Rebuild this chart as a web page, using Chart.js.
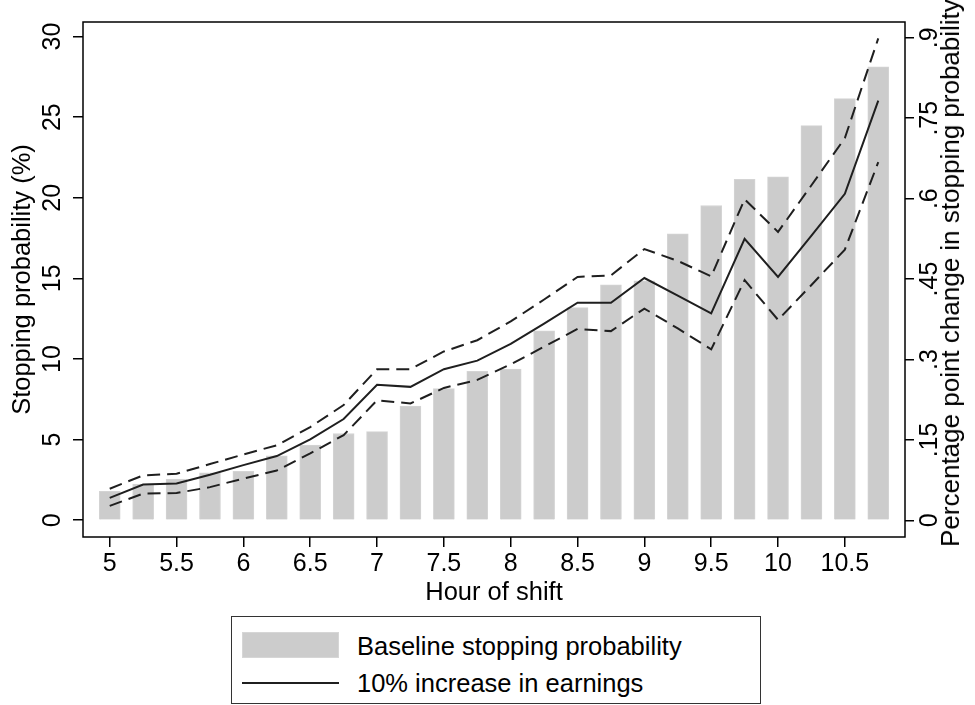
<!DOCTYPE html>
<html>
<head>
<meta charset="utf-8">
<script src="https://cdn.jsdelivr.net/npm/chart.js@4.4.1/dist/chart.umd.min.js"></script>
<style>
  html, body { margin: 0; padding: 0; background: #fff; }
  #wrap { position: relative; width: 975px; height: 705px; overflow: hidden; font-family: "Liberation Sans", Arial, Helvetica, sans-serif; color: #000; }
  #chartBox { position: absolute; left: 0; top: 0; width: 975px; height: 705px; }
  #rtitle { position: absolute; left: 950px; top: 273px; transform: translate(-50%, -50%) rotate(-90deg); white-space: nowrap; font-size: 26px; line-height: 30px; }
  #legend { position: absolute; left: 231px; top: 616px; width: 530px; height: 88px; border: 1.5px solid #333; box-sizing: border-box; background: #fff; }
  .sw { position: absolute; left: 10px; width: 97px; }
  .lt { position: absolute; left: 125px; font-size: 25.5px; line-height: 30px; white-space: nowrap; }
</style>
</head>
<body>
<div id="wrap">
  <div id="chartBox"><canvas id="c"></canvas></div>
  <div id="rtitle"></div>
  <div id="legend">
    <div class="sw" style="top:15px;height:26px;background:#cccccc;border:1px solid #d6d6d6;box-sizing:border-box;"></div>
    <div class="lt" id="lg1" style="top:14px;"></div>
    <div class="sw" style="top:65px;height:2px;background:#1f1f1f;"></div>
    <div class="lt" id="lg2" style="top:51px;"></div>
  </div>
</div>
<script>
// ---- data ----
const hours = [5, 5.25, 5.5, 5.75, 6, 6.25, 6.5, 6.75, 7, 7.25, 7.5, 7.75, 8, 8.25, 8.5, 8.75, 9, 9.25, 9.5, 9.75, 10, 10.25, 10.5, 10.75];
const baseline = [1.8, 2.24, 2.55, 2.94, 3.04, 3.99, 4.66, 5.38, 5.5, 7.08, 8.16, 9.24, 9.38, 11.74, 13.19, 14.6, 14.84, 17.76, 19.52, 21.14, 21.3, 24.47, 26.15, 28.12];
const effect = [0.042, 0.067, 0.069, 0.085, 0.103, 0.120, 0.151, 0.189, 0.253, 0.249, 0.282, 0.298, 0.329, 0.367, 0.406, 0.406, 0.452, 0.419, 0.386, 0.525, 0.454, 0.531, 0.609, 0.783];
const upper = [0.059, 0.084, 0.087, 0.105, 0.123, 0.140, 0.174, 0.215, 0.282, 0.282, 0.315, 0.336, 0.371, 0.412, 0.454, 0.457, 0.506, 0.484, 0.455, 0.599, 0.538, 0.625, 0.713, 0.899];
const lower = [0.027, 0.050, 0.051, 0.062, 0.078, 0.093, 0.125, 0.159, 0.224, 0.218, 0.247, 0.262, 0.291, 0.324, 0.357, 0.353, 0.395, 0.358, 0.319, 0.448, 0.374, 0.439, 0.505, 0.668];

const xTicks = [5, 5.5, 6, 6.5, 7, 7.5, 8, 8.5, 9, 9.5, 10, 10.5];
const xTickLabels = ['5', '5.5', '6', '6.5', '7', '7.5', '8', '8.5', '9', '9.5', '10', '10.5'];
const leftTicks = [0, 5, 10, 15, 20, 25, 30];
const leftTickLabels = ['0', '5', '10', '15', '20', '25', '30'];
const rightTicks = [0, 0.15, 0.3, 0.45, 0.6, 0.75, 0.9];
const rightTickLabels = ['0', '.15', '.3', '.45', '.6', '.75', '.9'];

const xTitle = 'Hour of shift';
const leftTitle = 'Stopping probability (%)';
const rightTitle = 'Percentage point change in stopping probability';
const legendLabels = ['Baseline stopping probability', '10% increase in earnings'];

document.getElementById('rtitle').textContent = rightTitle;
document.getElementById('lg1').textContent = legendLabels[0];
document.getElementById('lg2').textContent = legendLabels[1];

const FONT = '"Liberation Sans", Arial, Helvetica, sans-serif';
Chart.defaults.font.family = FONT;
Chart.defaults.color = '#000';

const pts = arr => arr.map((v, i) => ({ x: hours[i], y: v }));
const setTicks = (vals) => (s) => { s.ticks = vals.map(v => ({ value: v })); };
const labelFrom = (vals, labels) => (v) => { const i = vals.findIndex(t => Math.abs(t - v) < 1e-9); return i >= 0 ? labels[i] : ''; };

const tickGrid = { display: true, drawOnChartArea: false, drawTicks: true, tickLength: 10, color: '#000', lineWidth: 1.5, offset: false };

const frame = {
  id: 'frame',
  afterDraw(chart) {
    const { ctx, chartArea: a } = chart;
    ctx.save();
    ctx.strokeStyle = '#000';
    ctx.lineWidth = 1.5;
    ctx.strokeRect(a.left, a.top, a.right - a.left, a.bottom - a.top);
    ctx.restore();
  }
};

new Chart(document.getElementById('c'), {
  data: {
    datasets: [
      { type: 'line', label: 'upper', data: pts(upper), yAxisID: 'y2', borderColor: '#1f1f1f', borderWidth: 2, borderDash: [13, 7], pointRadius: 0, fill: false, tension: 0, order: 1 },
      { type: 'line', label: legendLabels[1], data: pts(effect), yAxisID: 'y2', borderColor: '#1f1f1f', borderWidth: 2, pointRadius: 0, fill: false, tension: 0, order: 1 },
      { type: 'line', label: 'lower', data: pts(lower), yAxisID: 'y2', borderColor: '#1f1f1f', borderWidth: 2, borderDash: [13, 7], pointRadius: 0, fill: false, tension: 0, order: 1 },
      { type: 'bar', label: legendLabels[0], data: pts(baseline), yAxisID: 'y', backgroundColor: '#cccccc', borderColor: '#d4d4d4', borderWidth: 1, barThickness: 21, order: 2 }
    ]
  },
  options: {
    responsive: true,
    maintainAspectRatio: false,
    animation: false,
    layout: { padding: { top: 22, bottom: 97, left: 0, right: 0 } },
    plugins: { legend: { display: false }, tooltip: { enabled: false } },
    scales: {
      x: {
        type: 'linear', position: 'bottom', min: 4.8, max: 10.95, offset: false,
        afterBuildTicks: setTicks(xTicks),
        afterFit: s => { s.height = 71; },
        grid: tickGrid,
        border: { display: false },
        ticks: { autoSkip: false, maxRotation: 0, padding: 2, font: { size: 25 }, color: '#000', callback: labelFrom(xTicks, xTickLabels) },
        title: { display: true, text: xTitle, font: { size: 25.5 }, color: '#000', padding: { top: 0, bottom: 0 } }
      },
      y: {
        type: 'linear', position: 'left', min: -1.04, max: 30.9,
        afterBuildTicks: setTicks(leftTicks),
        afterFit: s => { s.width = 83; },
        grid: tickGrid,
        border: { display: false },
        ticks: { autoSkip: false, minRotation: 90, maxRotation: 90, crossAlign: 'center', padding: 6, font: { size: 25 }, color: '#000', callback: labelFrom(leftTicks, leftTickLabels) },
        title: { display: true, text: leftTitle, font: { size: 25.5 }, color: '#000', padding: { top: 8, bottom: 0 } }
      },
      y2: {
        type: 'linear', position: 'right', min: -0.031, max: 0.9295,
        afterBuildTicks: setTicks(rightTicks),
        afterFit: s => { s.width = 70; },
        grid: Object.assign({}, tickGrid, { tickLength: 9 }),
        border: { display: false },
        ticks: { autoSkip: false, minRotation: 90, maxRotation: 90, crossAlign: 'center', padding: -1, font: { size: 25 }, color: '#000', callback: labelFrom(rightTicks, rightTickLabels) }
      }
    }
  },
  plugins: [frame]
});
</script>
</body>
</html>
